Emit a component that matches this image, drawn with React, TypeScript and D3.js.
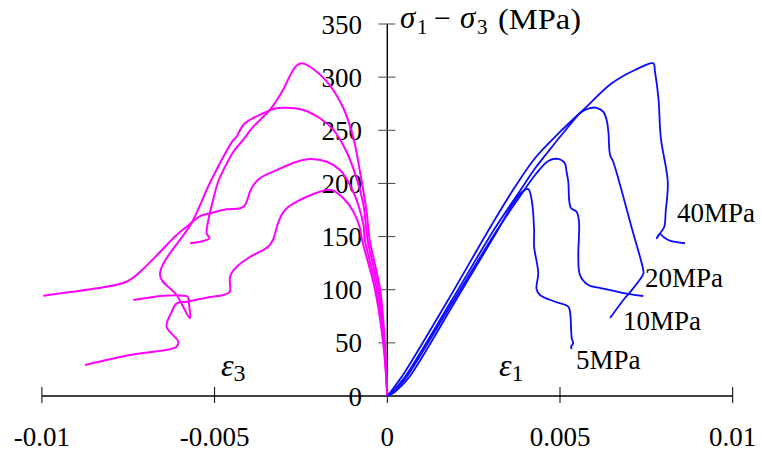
import React from 'react';
import * as d3 from 'd3';

// Tick values
const xTicks = [-0.01, -0.005, 0, 0.005, 0.01];
const xTickLabels = ['-0.01', '-0.005', '0', '0.005', '0.01'];
const yTicks = [0, 50, 100, 150, 200, 250, 300, 350];

// Axial strain ε1 vs deviatoric stress (MPa), confining 40/20/10/5 MPa
const axial40: [number, number][] = [
  [0, 0], [0.00014, 5.6], [0.00031, 13.2], [0.00051, 22.6], [0.00176, 90.3], [0.00302, 160.9],
  [0.00364, 193.8], [0.00428, 223.9], [0.005, 248.4], [0.00572, 270.7], [0.0065, 294.2],
  [0.00717, 306.7], [0.0077, 313.0], [0.00775, 305.1], [0.00785, 280.1], [0.00792, 242.7],
  [0.00812, 201.6], [0.00806, 173.4], [0.00802, 159.3], [0.00792, 154], [0.0078, 148.4],
  [0.00789, 152.5], [0.008, 149.5], [0.00818, 146.1], [0.00862, 143.7],
];
const axial20: [number, number][] = [
  [0, 0], [0.00017, 4.7], [0.00037, 12.2], [0.00057, 20.7], [0.00187, 90.3], [0.00312, 158.1],
  [0.00378, 190.0], [0.00428, 214.2], [0.00465, 229.6], [0.00514, 249.3], [0.00563, 267.5],
  [0.00587, 270.9], [0.00606, 271.2], [0.00625, 267.5], [0.00635, 259.7], [0.0064, 248.7],
  [0.00645, 226.7], [0.00654, 220.4], [0.00708, 157.8], [0.00741, 118.5], [0.00741, 114.8],
  [0.00703, 97.8], [0.00688, 92.2], [0.00645, 73.4],
];
const axial10: [number, number][] = [
  [0, 0], [0.00019, 4.7], [0.0004, 11.3], [0.0006, 19.8], [0.00193, 90.3], [0.00318, 156.2],
  [0.00381, 186.3], [0.00428, 207.9], [0.00466, 221.1], [0.00495, 223.0], [0.00514, 218.9],
  [0.00519, 211.0], [0.00524, 201.6], [0.00527, 182.8], [0.00532, 176.6], [0.00548, 173.4],
  [0.00555, 164.0], [0.00553, 129.8], [0.00558, 113.8], [0.00582, 104.4], [0.00621, 101.3],
  [0.00688, 96.6], [0.00741, 94.1],
];
const axial5: [number, number][] = [
  [0, 0], [0.00022, 3.8], [0.00043, 10.3], [0.00066, 18.8], [0.00199, 90.3], [0.0032, 156.2],
  [0.00367, 182.5], [0.0039, 191.9], [0.00408, 194.7], [0.00418, 184.4], [0.00425, 156.2],
  [0.00425, 140.5], [0.00437, 115.7], [0.00432, 100.7], [0.00442, 95.0], [0.00486, 88.7],
  [0.00524, 84.0], [0.00529, 79.3], [0.00534, 54.3], [0.00538, 49.6], [0.00532, 46.4],
  [0.00534, 44.2],
];

// Lateral strain ε3 vs deviatoric stress (MPa)
const lateral40: [number, number][] = [
  [0, 0], [-0.00007, 50.1], [-0.00021, 100.7], [-0.00051, 146.8], [-0.0006, 173.4],
  [-0.00079, 211.0], [-0.00098, 242.4], [-0.00127, 270.7], [-0.00175, 295.7], [-0.00224, 309.8],
  [-0.00248, 313.0], [-0.00264, 310.5], [-0.00282, 301.1], [-0.00302, 287.9], [-0.0034, 269.1],
  [-0.00388, 253.4], [-0.00418, 240.8], [-0.00446, 229.6], [-0.0047, 215.4], [-0.00489, 202.3],
  [-0.00508, 179.7], [-0.00518, 165.6], [-0.00523, 153.1], [-0.00515, 148.4], [-0.00542, 145.2],
  [-0.00571, 143.7],
];
const lateral20: [number, number][] = [
  [0, 0], [-0.00009, 50.1], [-0.00026, 100.7], [-0.00057, 146.8], [-0.00069, 179.7],
  [-0.00089, 204.8], [-0.00118, 229.8], [-0.00156, 250.3], [-0.00195, 261.3], [-0.00243, 269.1],
  [-0.00301, 271.2], [-0.0033, 270.0], [-0.00359, 266.0], [-0.00398, 259.7], [-0.00417, 255.0],
  [-0.00431, 247.1], [-0.00436, 244.0], [-0.00446, 240.8], [-0.00512, 201.6], [-0.00565, 163.7],
  [-0.00658, 113.8], [-0.0061, 95.0], [-0.00571, 73.1], [-0.00574, 85.6], [-0.00577, 93.1],
  [-0.00591, 94.4], [-0.00648, 94.4], [-0.00735, 90.3],
];
const lateral10: [number, number][] = [
  [0, 0], [-0.0001, 50.1], [-0.00031, 100.7], [-0.00065, 146.8], [-0.00069, 160.9],
  [-0.00084, 179.7], [-0.00108, 198.5], [-0.00137, 212.6], [-0.00175, 220.4], [-0.00224, 223.0],
  [-0.00262, 220.4], [-0.0032, 212.6], [-0.00369, 204.8], [-0.00393, 195.4], [-0.00412, 179.7],
  [-0.00426, 176.6], [-0.00465, 175.6], [-0.00513, 171.9], [-0.00542, 169.3], [-0.00571, 161.8],
  [-0.0061, 151.5], [-0.00658, 135.5], [-0.00716, 116.7], [-0.00755, 107.5], [-0.00841, 101.3],
  [-0.00919, 97.8], [-0.00996, 94.4],
];
const lateral5: [number, number][] = [
  [0, 0], [-0.00012, 50.1], [-0.00036, 100.7], [-0.00073, 146.8], [-0.00079, 157.8],
  [-0.00098, 173.4], [-0.00127, 186.0], [-0.00161, 193.8], [-0.00195, 192.2], [-0.00233, 187.5],
  [-0.00262, 182.8], [-0.00291, 176.6], [-0.00306, 170.3], [-0.00318, 160.9], [-0.00331, 146.8],
  [-0.00345, 140.5], [-0.00398, 130.8], [-0.00436, 121.6], [-0.00451, 115.4], [-0.00456, 110.7],
  [-0.00456, 98.1], [-0.00475, 95.0], [-0.00513, 93.1], [-0.00581, 88.7], [-0.0061, 87.2],
  [-0.00624, 79.3], [-0.00639, 65.2], [-0.00605, 51.1], [-0.0061, 46.4], [-0.00745, 38.6],
  [-0.00875, 29.2],
];

const axialSeries = [axial40, axial20, axial10, axial5];
const lateralSeries = [lateral40, lateral20, lateral10, lateral5];
const seriesLabels = ['40MPa', '20MPa', '10MPa', '5MPa'];
const labelAnchors = [
  { x: 677, y: 222 },
  { x: 645, y: 287 },
  { x: 623, y: 330 },
  { x: 576, y: 369 },
];

const W = 762;
const H = 454;
const FONT = '"Liberation Serif", "Times New Roman", serif';

export default function App() {
  const x = d3.scaleLinear().domain([-0.01, 0.01]).range([41.9, 732.7]);
  const y = d3.scaleLinear().domain([0, 350]).range([396, 24]);
  const line = d3
    .line<[number, number]>()
    .x((d) => x(d[0]))
    .y((d) => y(d[1]))
    .curve(d3.curveCatmullRom.alpha(0.5));

  const x0 = x(0);
  const y0 = y(0);

  return (
    <svg
      width={W}
      height={H}
      viewBox={`0 0 ${W} ${H}`}
      style={{ position: 'absolute', left: 0, top: 0, background: '#fff' }}
      fontFamily={FONT}
    >
      <rect x={0} y={0} width={W} height={H} fill="#fff" />
      {/* axes */}
      <line x1={x(-0.01)} x2={x(0.01)} y1={y0} y2={y0} stroke="#000" strokeWidth={1.4} />
      <line x1={x0} x2={x0} y1={y(350)} y2={y0} stroke="#000" strokeWidth={1.4} />
      {xTicks.map((t, i) => (
        <g key={'xt' + i}>
          <line x1={x(t)} x2={x(t)} y1={y0 - 9} y2={y0 + 7} stroke="#000" strokeWidth={1} />
          <text x={x(t)} y={446} fontSize={27} textAnchor="middle" fill="#000">
            {xTickLabels[i]}
          </text>
        </g>
      ))}
      {yTicks.map((t, i) => (
        <g key={'yt' + i}>
          <line x1={x0 - 9} x2={x0 + 8} y1={y(t)} y2={y(t)} stroke="#444" strokeWidth={1} />
          <text x={362} y={y(t) + 9.5} fontSize={27} textAnchor="end" fill="#000">
            {t}
          </text>
        </g>
      ))}

      {/* curves */}
      {lateralSeries.map((s, i) => (
        <path key={'l' + i} d={line(s) || ''} fill="none" stroke="#ff00ff" strokeWidth={2} strokeLinejoin="round" />
      ))}
      {axialSeries.map((s, i) => (
        <path key={'a' + i} d={line(s) || ''} fill="none" stroke="#0a0aff" strokeWidth={1.8} strokeLinejoin="round" />
      ))}

      {/* series labels */}
      {seriesLabels.map((lab, i) => (
        <text key={'sl' + i} x={labelAnchors[i].x} y={labelAnchors[i].y} fontSize={27} fill="#000">
          {lab}
        </text>
      ))}

      {/* title */}
      <g fill="#000">
        <text x={400} y={28} fontSize={31} fontStyle="italic">σ</text>
        <text x={417} y={34} fontSize={21}>1</text>
        <text x={434} y={28} fontSize={30}>−</text>
        <text x={460} y={28} fontSize={31} fontStyle="italic">σ</text>
        <text x={477} y={34} fontSize={21}>3</text>
        <text x={498} y={29} fontSize={30} textLength={83} lengthAdjust="spacingAndGlyphs">(MPa)</text>
      </g>

      {/* strain labels */}
      <text x={221} y={376} fontSize={32} fill="#000">
        <tspan fontStyle="italic">ε</tspan>
        <tspan fontSize={24} dy={5}>3</tspan>
      </text>
      <text x={499} y={376} fontSize={32} fill="#000">
        <tspan fontStyle="italic">ε</tspan>
        <tspan fontSize={24} dy={5}>1</tspan>
      </text>
    </svg>
  );
}
